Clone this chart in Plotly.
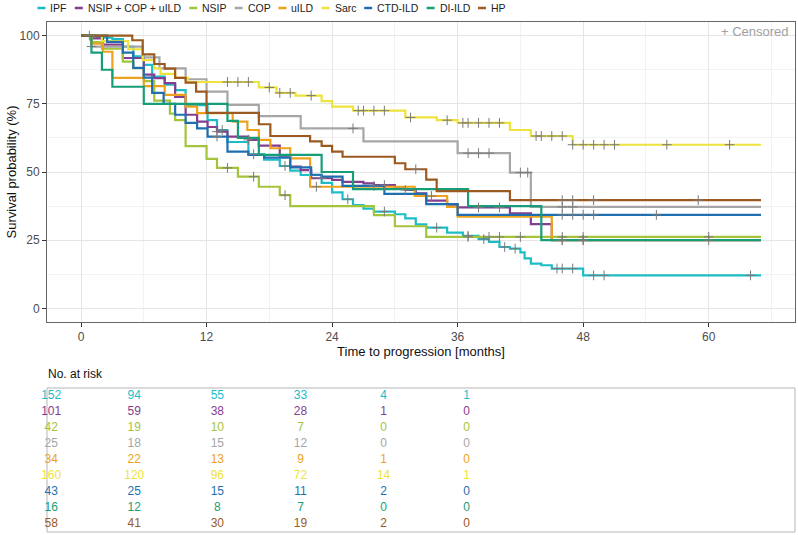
import plotly.graph_objects as go

W, H = 798, 535


def fx(p):
    return p / W


def fy(p):
    return 1 - p / H


groups = ["IPF", "NSIP + COP + uILD", "NSIP", "COP", "uILD", "Sarc", "CTD-ILD", "DI-ILD", "HP"]
colors = ["#1CBDC7", "#843E90", "#A4C43C", "#A6A6A6", "#EEA21C", "#EEE33C", "#1F6FB0", "#179E78", "#9B5A21"]
t_end = 65

# Kaplan-Meier step data (time in months, survival %)
ipf_t = [0, 1.5, 3, 4, 5, 6, 6.8, 8, 9, 10, 12.1, 13, 14, 16, 17.5, 19, 20, 21, 23, 24, 25, 26, 27, 28, 30, 31, 32, 33, 35, 36.5, 38, 39, 40, 41, 42, 42.4, 43, 44, 45, 48]
ipf_s = [100, 99.3, 98.7, 96, 92.4, 89.3, 85, 82, 80, 74.5, 69, 65.4, 61, 56.5, 54.5, 52.2, 50.5, 48.9, 46, 42.5, 40, 37.9, 36.6, 35.5, 34.5, 33, 30.8, 29.6, 27.8, 26.6, 25.4, 24.4, 22.5, 21.9, 20.5, 18.3, 16.4, 15.8, 14.6, 12.1]

ncu_t = [0, 1, 2.1, 4, 6, 7, 8, 9, 10, 11.1, 12.1, 13, 14, 16, 17, 19, 20, 21, 22, 24, 25, 27, 28, 30, 31, 32, 33, 35, 36, 41, 43, 45]
ncu_s = [100, 99, 96.7, 91.8, 85.7, 84.4, 82.6, 77.5, 71, 68.5, 66.5, 64.8, 63, 61.8, 59.7, 56, 52, 50.7, 47.7, 47.1, 46.4, 45.8, 45.2, 44, 43.4, 42.2, 39.5, 38, 37, 34.8, 30.9, 25]

nsip_t = [0, 1, 2, 4, 5, 6, 7, 8.5, 9, 10, 12, 13, 15, 17, 19, 20, 28, 30, 33]
nsip_s = [100, 97.6, 95.2, 90.5, 88.1, 83.3, 76.2, 71.4, 69, 59.5, 54.8, 51.5, 48.3, 44.6, 41.5, 37.5, 34.2, 30.1, 26.2]

cop_t = [0, 1, 5.9, 7.5, 10, 12, 14, 17, 21, 27, 36, 41, 43]
cop_s = [100, 96, 92, 88, 84, 79.5, 74.6, 70.5, 66, 61.2, 56.9, 49.8, 37.2]

uild_t = [0, 1, 2.1, 3, 6, 8, 10, 11.1, 14.5, 15.9, 17, 18.1, 20, 21.9, 31.9, 35, 36, 45]
uild_s = [100, 97.1, 94.1, 84.5, 81.5, 78.3, 74, 71.6, 68.5, 65.4, 61.8, 58.7, 55, 44.6, 41.2, 37.2, 33.6, 25]

sarc_t = [0, 2, 4.5, 5.9, 7, 7.6, 9, 10.2, 17, 18.7, 20.5, 23, 24, 26, 31, 34, 36, 41, 43, 47]
sarc_s = [100, 98, 95, 91, 88, 86, 84.6, 83, 81, 79, 78, 76, 74, 72.5, 70, 69, 68, 65.4, 63.2, 60]

ctd_t = [0, 2.5, 4, 5, 6, 6.8, 7.9, 9, 10, 11.1, 12.1, 14, 16, 17.5, 20, 22, 23, 25, 29, 33, 36]
ctd_s = [100, 97.7, 93.8, 88.2, 84.6, 79, 75, 71, 68, 66, 63, 57.5, 56.3, 55.3, 51.7, 49, 48.3, 44.9, 42, 38.2, 34.3]

di_t = [0, 1, 2, 3, 6, 14, 15, 17, 23, 26, 37, 44]
di_s = [100, 93.75, 87.5, 81.25, 75, 68.75, 62.5, 56.25, 50, 43.75, 37.5, 25]

hp_t = [0, 4.9, 5.9, 7, 8, 9, 10, 11, 12, 17, 18.1, 21.9, 23, 24, 25, 30, 31, 33, 34, 41]
hp_s = [100, 98.3, 93.1, 89.6, 87.9, 84.5, 82.8, 79.5, 71.7, 67.5, 63.2, 61.2, 59.6, 57.5, 55.6, 53.2, 51, 47.2, 43, 39.7]

# censoring times
ipf_c = [13.5, 16.5, 19.5, 25.5, 29, 34, 37, 38.5, 40.5, 41.5, 45.5, 46, 47, 49, 50, 64]
ncu_c = [13, 16, 23, 29, 31, 38, 40, 46, 48]
nsip_c = [14, 16.5, 19.5, 37, 39, 40, 42, 46, 48, 60]
cop_c = [1, 26, 37, 38, 39, 42, 42.7, 46, 47]
uild_c = [22.5, 33.5, 46]
sarc_c = [14, 15, 16, 18, 19, 20, 22, 26.5, 27, 28, 29, 31.5, 35, 36.5, 37, 38, 39, 40, 43.5, 44, 45, 46, 47, 48, 49, 50, 51, 56, 62]
ctd_c = [13, 28, 46, 47, 48, 49, 55]
di_c = [48, 60]
hp_c = [0.8, 32, 46, 47, 49, 59]

# number at risk table
risk_ipf = [152, 94, 55, 33, 4, 1]
risk_ncu = [101, 59, 38, 28, 1, 0]
risk_nsip = [42, 19, 10, 7, 0, 0]
risk_cop = [25, 18, 15, 12, 0, 0]
risk_uild = [34, 22, 13, 9, 1, 0]
risk_sarc = [160, 120, 96, 72, 14, 1]
risk_ctd = [43, 25, 15, 11, 2, 0]
risk_di = [16, 12, 8, 7, 0, 0]
risk_hp = [58, 41, 30, 19, 2, 0]

curves = [(ipf_t, ipf_s, ipf_c), (ncu_t, ncu_s, ncu_c), (nsip_t, nsip_s, nsip_c),
          (cop_t, cop_s, cop_c), (uild_t, uild_s, uild_c), (sarc_t, sarc_s, sarc_c),
          (ctd_t, ctd_s, ctd_c), (di_t, di_s, di_c), (hp_t, hp_s, hp_c)]
risks = [risk_ipf, risk_ncu, risk_nsip, risk_cop, risk_uild, risk_sarc, risk_ctd, risk_di, risk_hp]


def surv_at(ts, ss, t):
    v = ss[0]
    for ti, si in zip(ts, ss):
        if ti <= t:
            v = si
    return v


FONT = "Liberation Sans, Arial, sans-serif"

fig = go.Figure()
for name, col, (ts, ss, cs) in zip(groups, colors, curves):
    fig.add_trace(go.Scatter(x=ts + [t_end], y=ss + [ss[-1]], mode="lines",
                             line=dict(color=col, width=2.2, shape="hv"),
                             name=name, showlegend=False, hoverinfo="skip"))
for name, col, (ts, ss, cs) in zip(groups, colors, curves):
    fig.add_trace(go.Scatter(x=cs, y=[surv_at(ts, ss, c) for c in cs], mode="markers",
                             marker=dict(symbol="cross-thin", size=7,
                                         line=dict(width=1, color="#7A7A7A")),
                             showlegend=False, hoverinfo="skip"))

# risk table
tx, ty, tt, tc = [], [], [], []
for r, (vals, col) in enumerate(zip(risks, colors)):
    for c, v in enumerate(vals):
        tx.append(c)
        ty.append(r)
        tt.append(str(v))
        tc.append(col)
fig.add_trace(go.Scatter(x=tx, y=ty, text=tt, mode="text", xaxis="x2", yaxis="y2",
                         cliponaxis=False,
                         textfont=dict(color=tc, size=12, family=FONT),
                         showlegend=False, hoverinfo="skip"))

xd = [fx(47), fx(795)]
fig.update_layout(
    width=W, height=H, margin=dict(l=0, r=0, t=0, b=0),
    paper_bgcolor="white", plot_bgcolor="white",
    font=dict(family=FONT, size=12, color="#222222"),
    xaxis=dict(domain=xd, range=[-3.25, 68.25], tickvals=[0, 12, 24, 36, 48, 60],
               showgrid=True, gridcolor="#E5E5E5", gridwidth=1,
               minor=dict(showgrid=True, gridcolor="#F2F2F2", tickvals=[6, 18, 30, 42, 54, 66]),
               zeroline=False, ticks="outside", ticklen=4, tickcolor="#333333",
               tickfont=dict(size=12, color="#4D4D4D"),
               showline=True, linecolor="#666666", mirror=True, automargin=False,
               title=dict(text="Time to progression [months]", font=dict(size=13, color="#111111"), standoff=0)),
    yaxis=dict(domain=[fy(322), fy(22)], range=[-5, 105], tickvals=[0, 25, 50, 75, 100],
               showgrid=True, gridcolor="#E5E5E5", gridwidth=1,
               minor=dict(showgrid=True, gridcolor="#F2F2F2", tickvals=[12.5, 37.5, 62.5, 87.5]),
               zeroline=False, ticks="outside", ticklen=4, tickcolor="#333333",
               tickfont=dict(size=12, color="#4D4D4D"),
               showline=True, linecolor="#666666", mirror=True, automargin=False,
               title=dict(text="Survival probability (%)", font=dict(size=13, color="#111111"), standoff=0)),
    xaxis2=dict(domain=xd, range=[-0.05, 8.95], visible=False, anchor="y2"),
    yaxis2=dict(domain=[fy(532), fy(388)], range=[8.5, -0.5], visible=False, anchor="x2"),
)

fig.add_shape(type="rect", xref="paper", yref="paper", x0=fx(47), x1=fx(795), y0=fy(532), y1=fy(388),
              line=dict(color="#B5B5B5", width=1), layer="below")

fig.add_annotation(text="+ Censored", xref="paper", yref="paper", x=fx(791), y=fy(31),
                   xanchor="right", yanchor="middle", showarrow=False,
                   font=dict(size=13, color="#A0A0A0"))
fig.add_annotation(text="No. at risk", xref="paper", yref="paper", x=fx(46), y=fy(374),
                   xanchor="left", yanchor="middle", showarrow=False,
                   font=dict(size=12, color="#111111"))

# legend (manual, laid out left to right)
LFS = 10.5
em = {"IPF": 1.556, "NSIP + COP + uILD": 8.893, "NSIP": 2.334, "COP": 2.167, "uILD": 2.112,
      "Sarc": 2.056, "CTD-ILD": 3.944, "DI-ILD": 2.889, "HP": 1.389}
dash_w, gap, spacing = 8, 4, 9
total = sum(em[g] * LFS for g in groups) + len(groups) * (dash_w + gap) + (len(groups) - 1) * spacing
x = 271 - total / 2
ly = 8
for name, col in zip(groups, colors):
    fig.add_shape(type="line", xref="paper", yref="paper", x0=fx(x), x1=fx(x + dash_w),
                  y0=fy(ly), y1=fy(ly), line=dict(color=col, width=2.5))
    fig.add_annotation(text=name, xref="paper", yref="paper", x=fx(x + dash_w + gap), y=fy(ly),
                       xanchor="left", yanchor="middle", showarrow=False, xshift=-1,
                       font=dict(size=LFS, color="#222222"))
    x += dash_w + gap + em[name] * LFS + spacing

# remove the default 8px page margin so the figure sits at the window's top-left corner
fig.write_html("out.html", config={"displayModeBar": False},
               post_script="document.body.style.margin='0';")
